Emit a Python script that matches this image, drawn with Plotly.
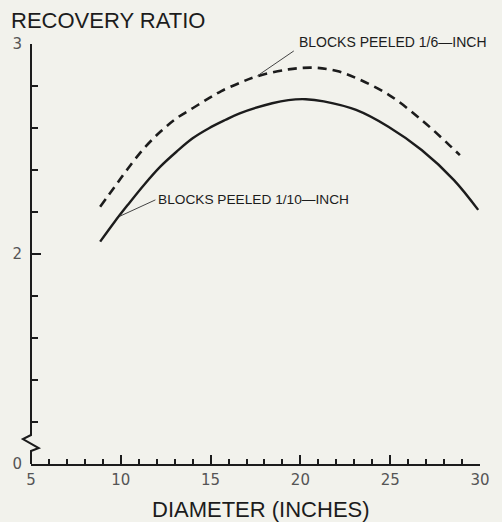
import plotly.graph_objects as go

# Recovery ratio versus block diameter, for two peel thicknesses
diam_tenth = [8.85, 9.66, 10.38, 11.29, 12.2, 13.1, 14.0, 14.91, 15.81, 16.62, 18.43, 19.33, 20.3,
              21.3, 23.1, 24.9, 26.75, 28.55, 29.9]
ratio_tenth = [2.059, 2.154, 2.233, 2.329, 2.416, 2.487, 2.551, 2.599, 2.638, 2.67, 2.718, 2.733, 2.737,
               2.727, 2.686, 2.606, 2.495, 2.352, 2.21]

diam_sixth = [8.85, 9.66, 10.38, 11.29, 12.2, 13.1, 14.0, 14.91, 15.6, 16.62, 17.53, 19.33, 20.78,
              22.04, 23.13, 24.94, 26.75, 28.19, 28.88]
ratio_sixth = [2.225, 2.32, 2.405, 2.503, 2.582, 2.646, 2.694, 2.742, 2.776, 2.815, 2.845, 2.879, 2.887,
               2.871, 2.837, 2.757, 2.638, 2.527, 2.471]

# broken y axis: the bottom of the scale (value 1.0) is labelled 0
y_tickvals = [1, 2, 3]
y_ticktext = ["0", "2", "3"]
x_tickvals = [5, 10, 15, 20, 25, 30]

INK = "#1c1c1c"
BG = "#f2f2ec"

fig = go.Figure()
fig.add_trace(go.Scatter(
    x=diam_sixth, y=ratio_sixth, mode="lines",
    line=dict(color=INK, width=2.6, dash="9px,6px", shape="spline", smoothing=1.0),
    hoverinfo="skip", showlegend=False,
))
fig.add_trace(go.Scatter(
    x=diam_tenth, y=ratio_tenth, mode="lines",
    line=dict(color=INK, width=2.4, shape="spline", smoothing=1.0),
    hoverinfo="skip", showlegend=False,
))

tick_font = dict(family="DejaVu Sans", size=15, color="#555555")
label_font = dict(family="Liberation Sans", size=13.7, color=INK)

fig.update_layout(
    width=502, height=522,
    margin=dict(l=29, r=12, t=44, b=58),
    paper_bgcolor=BG, plot_bgcolor=BG,
    xaxis=dict(
        range=[5, 30], tickmode="array", tickvals=x_tickvals,
        ticks="inside", ticklen=9, tickwidth=1.5, tickcolor=INK,
        minor=dict(dtick=1, tick0=5, ticks="inside", ticklen=5, tickwidth=1.5, tickcolor=INK),
        showline=True, linecolor=INK, linewidth=2,
        showgrid=False, zeroline=False, tickfont=tick_font, ticklabelstandoff=1,
    ),
    yaxis=dict(
        range=[1, 3], tickmode="array", tickvals=y_tickvals, ticktext=y_ticktext,
        ticks="inside", ticklen=10, tickwidth=1.5, tickcolor=INK,
        minor=dict(dtick=0.2, tick0=1, ticks="inside", ticklen=7, tickwidth=1.5, tickcolor=INK),
        showline=False, showgrid=False, zeroline=False, tickfont=tick_font,
        ticklabelstandoff=8,
    ),
    shapes=[
        # y axis line with the break symbol near the bottom
        dict(type="path", xref="paper", yref="paper",
             path="M 0,1 L 0,0.069 L -0.018,0.0595 L 0.0172,0.038 L 0,0.031 L 0,0",
             line=dict(color=INK, width=2)),
    ],
    annotations=[
        dict(text="RECOVERY RATIO", xref="paper", yref="paper", x=-0.05, y=1.056,
             xanchor="left", yanchor="middle", showarrow=False,
             font=dict(family="Liberation Sans", size=22, color=INK)),
        dict(text="DIAMETER (INCHES)", xref="paper", yref="paper", x=0.513, y=-0.109,
             xanchor="center", yanchor="middle", showarrow=False,
             font=dict(family="Liberation Sans", size=22, color=INK)),
        # leader lines from each curve to its label
        dict(text="", x=17.6, y=2.848, xref="x", yref="y", showarrow=True,
             arrowhead=0, arrowwidth=1, arrowcolor="#444", ax=38, ay=-26),
        dict(text="", x=9.95, y=2.18, xref="x", yref="y", showarrow=True,
             arrowhead=0, arrowwidth=1, arrowcolor="#444", ax=37, ay=-17),
        dict(text="BLOCKS PEELED 1/6\u2014INCH", xref="paper", yref="paper", x=0.592, y=1.005,
             xanchor="left", yanchor="middle", showarrow=False,
             font=dict(family="Liberation Sans", size=14, color=INK)),
        dict(text="BLOCKS PEELED 1/10\u2014INCH", xref="x", yref="y", x=11.95, y=2.26,
             xanchor="left", yanchor="middle", showarrow=False, font=label_font),
    ],
)

fig.write_html("out.html")
